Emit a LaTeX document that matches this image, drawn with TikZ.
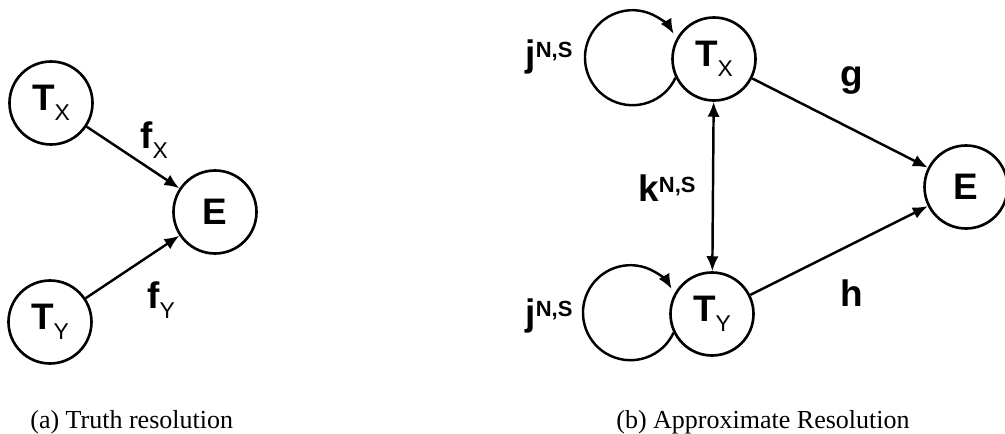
\documentclass[tikz,border=0pt]{standalone}
\usepackage{fontspec}
\setmainfont{Liberation Serif}
\newfontfamily\arialfont{Liberation Sans}
\usetikzlibrary{arrows.meta, positioning, calc}

\newcommand{\nodefont}{\arialfont\bfseries\fontsize{21}{24}\selectfont}
\newcommand{\captfont}{\fontsize{14.8}{17}\selectfont}
\newcommand{\lsub}[1]{\raisebox{-5.5pt}{\fontsize{13}{13}\selectfont\mdseries #1}}
\newcommand{\lsup}[1]{\raisebox{5pt}{\fontsize{12.5}{13}\selectfont #1}}

\tikzset{
    state/.style={circle, draw, line width=1.5pt, minimum size=1.66cm, inner sep=0pt, font=\nodefont},
    elabel/.style={font=\nodefont, inner sep=0pt},
    capt/.style={font=\captfont, anchor=base west, inner sep=0pt},
    link/.style={line width=1.4pt, -{Latex[length=8.5pt, width=7pt]}},
    twoway/.style={line width=1.4pt, {Latex[length=8.5pt, width=7pt]}-{Latex[length=8.5pt, width=7pt]}},
}

\begin{document}
\begin{tikzpicture}
\useasboundingbox (0,0) rectangle (20.1,8.66);

% (a) truth resolution
\node[state] (tx1) at (1.02,6.60) {T\lsub{X}};
\node[state] (ty1) at (1.00,2.22) {T\lsub{Y}};
\node[state] (e1) at (4.30,4.42) {E};
\draw[link] (tx1) -- (e1);
\draw[link] (ty1) -- (e1);
\node[elabel] (fx) at (3.08,5.86) {f\lsub{X}};
\node[elabel] (fy) at (3.22,2.66) {f\lsub{Y}};

% (b) approximate resolution
\node[state] (tx2) at (14.28,7.48) {T\lsub{X}};
\node[state] (ty2) at (14.24,2.38) {T\lsub{Y}};
\node[state] (e2) at (19.32,4.92) {E};
\draw[link] (tx2) -- (e2);
\draw[link] (ty2) -- (e2);
\draw[twoway] (tx2) -- (ty2);

% self loops
\draw[link] (tx2.206) arc[start angle=-25, end angle=-330, radius=0.95cm];
\draw[link] (ty2.206) arc[start angle=-25, end angle=-330, radius=0.95cm];

\node[elabel] (j1) at (10.98,7.52) {j\lsup{N,S}};
\node[elabel] (j2) at (10.98,2.34) {j\lsup{N,S}};
\node[elabel] (k) at (13.34,4.90) {k\lsup{N,S}};
\node[elabel] (g) at (17.04,7.06) {g};
\node[elabel] (h) at (17.04,2.80) {h};

% captions
\node[capt] (capa) at (0.60,0.10) {(a) Truth resolution};
\node[capt] (capb) at (12.32,0.10) {(b) Approximate Resolution};
\end{tikzpicture}
\end{document}
